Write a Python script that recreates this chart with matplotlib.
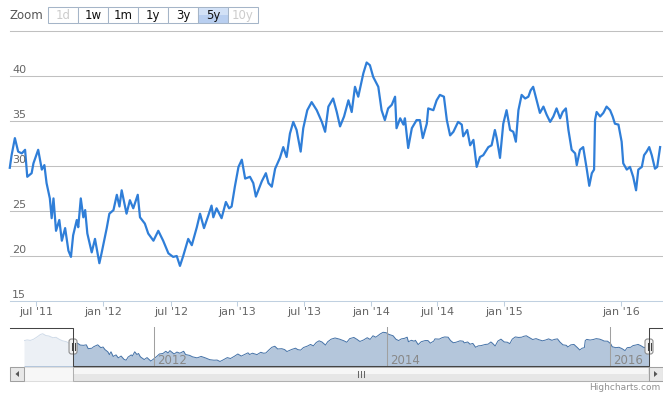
import numpy as np
import pandas as pd
import matplotlib
matplotlib.use("Agg")
import matplotlib.pyplot as plt
import matplotlib.dates as mdates
from matplotlib.patches import Rectangle, FancyBboxPatch, Polygon
from matplotlib.lines import Line2D
from matplotlib.transforms import IdentityTransform, blended_transform_factory

W, H = 663, 396

# price series in the selected 5y range
dates = [
    "2011-04-20", "2011-04-25", "2011-05-04", "2011-05-13", "2011-05-23", "2011-06-01",
    "2011-06-07", "2011-06-19", "2011-06-24", "2011-07-07", "2011-07-17", "2011-07-24",
    "2011-07-30", "2011-08-08", "2011-08-13", "2011-08-18", "2011-08-25", "2011-09-03",
    "2011-09-10", "2011-09-19", "2011-09-28", "2011-10-05", "2011-10-11", "2011-10-21",
    "2011-10-25", "2011-11-01", "2011-11-08", "2011-11-13", "2011-11-19", "2011-12-01",
    "2011-12-10", "2011-12-22", "2011-12-28", "2012-01-11", "2012-01-18", "2012-01-29",
    "2012-02-07", "2012-02-14", "2012-02-20", "2012-03-04", "2012-03-13", "2012-03-22",
    "2012-04-03", "2012-04-09", "2012-04-22", "2012-05-01", "2012-05-15", "2012-05-28",
    "2012-06-10", "2012-06-24", "2012-07-07", "2012-07-17", "2012-07-26", "2012-08-04",
    "2012-08-18", "2012-08-28", "2012-09-11", "2012-09-20", "2012-10-01", "2012-10-13",
    "2012-10-22", "2012-10-27", "2012-11-05", "2012-11-19", "2012-12-01", "2012-12-10",
    "2012-12-17", "2012-12-26", "2013-01-05", "2013-01-14", "2013-01-23", "2013-02-05",
    "2013-02-14", "2013-02-21", "2013-03-09", "2013-03-20", "2013-03-27", "2013-04-05",
    "2013-04-14", "2013-04-27", "2013-05-06", "2013-05-15", "2013-05-24", "2013-06-02",
    "2013-06-11", "2013-06-22", "2013-06-29", "2013-07-10", "2013-07-22", "2013-08-05",
    "2013-08-19", "2013-08-28", "2013-09-06", "2013-09-19", "2013-09-29", "2013-10-08",
    "2013-10-19", "2013-10-31", "2013-11-09", "2013-11-18", "2013-11-27", "2013-12-11",
    "2013-12-20", "2013-12-29", "2014-01-07", "2014-01-21", "2014-01-30", "2014-02-08",
    "2014-02-17", "2014-02-27", "2014-03-08", "2014-03-12", "2014-03-22", "2014-03-31",
    "2014-04-04", "2014-04-13", "2014-04-23", "2014-05-06", "2014-05-15", "2014-05-23",
    "2014-06-03", "2014-06-07", "2014-06-21", "2014-06-30", "2014-07-09", "2014-07-20",
    "2014-07-28", "2014-08-06", "2014-08-15", "2014-08-28", "2014-09-07", "2014-09-11",
    "2014-09-22", "2014-09-30", "2014-10-09", "2014-10-18", "2014-10-27", "2014-11-05",
    "2014-11-19", "2014-11-28", "2014-12-07", "2014-12-12", "2014-12-21", "2014-12-30",
    "2015-01-09", "2015-01-20", "2015-01-30", "2015-02-07", "2015-02-15", "2015-02-25",
    "2015-03-08", "2015-03-18", "2015-03-25", "2015-04-02", "2015-04-13", "2015-04-23",
    "2015-05-04", "2015-05-14", "2015-05-25", "2015-06-04", "2015-06-14", "2015-06-25",
    "2015-07-03", "2015-07-13", "2015-07-21", "2015-07-31", "2015-08-11", "2015-08-16",
    "2015-08-26", "2015-09-05", "2015-09-16", "2015-09-24", "2015-10-02", "2015-10-09",
    "2015-10-12", "2015-10-17", "2015-10-28", "2015-11-07", "2015-11-17", "2015-11-28",
    "2015-12-06", "2015-12-13", "2015-12-24", "2016-01-03", "2016-01-08", "2016-01-19",
    "2016-01-29", "2016-02-08", "2016-02-17", "2016-02-24", "2016-03-06", "2016-03-13",
    "2016-03-21", "2016-03-29", "2016-04-06", "2016-04-16", "2016-04-23", "2016-05-02",
]
prices = [
    29.8, 31.2, 33.1, 31.6, 31.4, 31.8,
    28.8, 29.2, 30.3, 31.8, 29.6, 30.1,
    28.1, 26.4, 24.2, 26.4, 22.8, 24.0,
    21.7, 23.1, 20.6, 19.9, 22.3, 24.0,
    23.2, 26.4, 24.3, 25.1, 22.5, 20.4,
    21.9, 19.2, 20.3, 23.1, 24.7, 25.1,
    26.8, 25.5, 27.3, 24.7, 26.2, 25.3,
    26.8, 24.3, 23.6, 22.5, 21.7, 22.8,
    21.7, 20.3, 19.9, 20.0, 18.9, 20.0,
    21.9, 21.2, 23.2, 24.7, 23.1, 24.5,
    25.6, 24.3, 25.3, 24.2, 26.0, 25.3,
    25.5, 27.7, 29.9, 30.7, 28.6, 28.8,
    28.1, 26.6, 28.3, 29.2, 28.1, 27.7,
    29.7, 30.9, 32.1, 31.0, 33.6, 34.9,
    34.0, 31.6, 34.2, 36.2, 37.1, 36.2,
    34.9, 33.8, 36.6, 37.5, 36.0, 34.4,
    35.5, 37.3, 36.0, 38.8, 37.7, 40.3,
    41.5, 41.2, 39.9, 38.8, 36.2, 35.1,
    36.4, 36.8, 37.7, 34.2, 35.3, 34.6,
    35.3, 32.0, 34.2, 35.1, 35.1, 33.1,
    34.7, 36.4, 36.2, 37.3, 37.9, 37.7,
    35.1, 33.4, 33.8, 34.9, 34.6, 33.3,
    34.0, 32.3, 32.9, 29.9, 31.0, 31.2,
    32.1, 32.3, 34.0, 33.1, 30.9, 34.7,
    36.2, 34.0, 33.8, 32.7, 36.2, 37.9,
    37.5, 37.7, 38.4, 38.8, 37.3, 35.9,
    36.6, 35.7, 34.9, 35.5, 36.4, 35.3,
    36.0, 36.4, 34.0, 31.8, 31.4, 30.1,
    31.8, 32.1, 29.7, 27.8, 29.2, 29.6,
    35.1, 36.0, 35.5, 35.9, 36.6, 36.2,
    35.5, 34.7, 34.6, 32.7, 30.3, 29.6,
    29.9, 28.8, 27.3, 29.6, 29.9, 31.2,
    31.6, 32.1, 31.2, 29.7, 29.9, 32.1,
]

# older data only visible in the navigator
early_dates = [
    "2010-11-16", "2010-11-26", "2010-12-06", "2010-12-16", "2010-12-28", "2011-01-07",
    "2011-01-14", "2011-01-24", "2011-02-03", "2011-02-15", "2011-02-25", "2011-03-08",
    "2011-03-18", "2011-03-30", "2011-04-11",
]
early_prices = [35.0, 35.6, 35.2, 36.1, 38.0, 39.8, 40.4, 39.0, 38.6, 37.3, 37.6, 36.0,
                34.9, 34.2, 32.6]

tick_dates = ["2011-07-01", "2012-01-01", "2012-07-01", "2013-01-01", "2013-07-01",
              "2014-01-01", "2014-07-01", "2015-01-01", "2016-01-01"]
tick_labels = ["jul '11", "jan '12", "jul '12", "jan '13", "jul '13",
               "jan '14", "jul '14", "jan '15", "jan '16"]
# Highcharts uses an ordinal axis, so the ticks are not evenly spaced in time
tick_px = [36, 103, 171, 237, 304, 371, 437, 504, 621]

nav_years = ["2012-01-01", "2014-01-01", "2016-01-01"]
nav_year_labels = ["2012", "2014", "2016"]
nav_anchor_dates = ["2010-11-16", "2012-01-01", "2014-01-01", "2016-01-01", "2016-05-02"]
nav_anchor_px = [24, 154, 387, 610, 649]

yticks = [15, 20, 25, 30, 35, 40, 45]
zoom_buttons = ["1d", "1w", "1m", "1y", "3y", "5y", "10y"]
zoom_selected = "5y"
zoom_disabled = ["1d", "10y"]

LINE = "#2f7ed8"
NAVC = "#4572A7"


def to_num(d):
    return mdates.date2num(pd.to_datetime(d).values)


def ordinal_scale(anchor_dates, anchor_px):
    a = to_num(anchor_dates)
    p = np.asarray(anchor_px, dtype=float)

    def lin(x, xs, ys):
        x = np.asarray(x, dtype=float)
        out = np.interp(x, xs, ys)
        lo = ys[0] + (x - xs[0]) * (ys[1] - ys[0]) / (xs[1] - xs[0])
        hi = ys[-1] + (x - xs[-1]) * (ys[-1] - ys[-2]) / (xs[-1] - xs[-2])
        return np.where(x < xs[0], lo, np.where(x > xs[-1], hi, out))

    return (lambda x: lin(x, a, p)), (lambda y: lin(y, p, a))


plt.rcParams["font.family"] = ["DejaVu Sans"]
fig = plt.figure(figsize=(W / 100, H / 100), dpi=100)
fig.patch.set_facecolor("white")
ID = IdentityTransform()


def px_axes(x0, y0, x1, y1):
    return fig.add_axes([x0 / W, 1 - y1 / H, (x1 - x0) / W, (y1 - y0) / H])


def rect(x, y, w, h, **kw):
    fig.add_artist(Rectangle((x, H - y - h), w, h, transform=ID, **kw))


def line(xs, ys, **kw):
    fig.add_artist(Line2D(xs, [H - v for v in ys], transform=ID, **kw))


x = to_num(dates)
xe = to_num(early_dates)

# ---- main chart ----
ax = px_axes(10, 31, 663, 301)
fwd, inv = ordinal_scale(tick_dates, tick_px)
ax.set_xscale("function", functions=(fwd, inv))
ax.set_xlim(float(inv(10)), float(inv(663)))
ax.set_ylim(15, 45)
for s in ax.spines.values():
    s.set_visible(False)

for v in yticks[1:]:
    ax.axhline(v, color="#C0C0C0", lw=0.75, zorder=1, clip_on=False)
ax.axhline(15, color="#C0D0E0", lw=0.75, zorder=1, clip_on=False)

ax.plot(x, prices, color=LINE, lw=1.6, solid_joinstyle="round", zorder=3, clip_on=False)

ylab_tr = blended_transform_factory(ax.transAxes, ax.transData)
for v in yticks[:-1]:
    ax.annotate(str(v), xy=(0, v), xycoords=ylab_tr, xytext=(1.5, 4.3),
                textcoords="offset points", ha="left", va="center",
                fontsize=8, color="#666666", zorder=4)

ax.set_xticks(to_num(tick_dates))
ax.set_xticklabels(tick_labels)
ax.tick_params(axis="x", length=3.6, width=0.75, color="#C0D0E0", labelsize=8,
               labelcolor="#666666", pad=1)
ax.tick_params(axis="y", left=False, labelleft=False)

# ---- navigator ----
nav = px_axes(24, 327, 649, 366)
nfwd, ninv = ordinal_scale(nav_anchor_dates, nav_anchor_px)
nav.set_xscale("function", functions=(nfwd, ninv))
nav.set_xlim(float(ninv(24)), float(ninv(649)))
nav.set_ylim(15.4, 45.6)
for s in nav.spines.values():
    s.set_visible(False)
nav.set_xticks([])
nav.set_yticks([])

nx = np.concatenate([xe, x])
ny = np.concatenate([early_prices, prices])
nav.fill_between(nx, ny, 0, color=NAVC, alpha=0.4, lw=0, zorder=2)
nav.plot(nx, ny, color=NAVC, lw=0.7, zorder=3)

for d, lab in zip(to_num(nav_years), nav_year_labels):
    nav.axvline(d, color="#A0A0A0", lw=0.75, zorder=4)
    nav.annotate(lab, xy=(d, 0), xycoords=blended_transform_factory(nav.transData, nav.transAxes),
                 xytext=(2.2, 1.5), textcoords="offset points", ha="left", va="baseline",
                 fontsize=8.5, color="#888888", zorder=5)

btr = blended_transform_factory(nav.transData, nav.transAxes)
nav.add_patch(Rectangle((nav.get_xlim()[0], 0), x[0] - nav.get_xlim()[0], 1, transform=btr,
                        facecolor="white", alpha=0.75, lw=0, zorder=6))

hx0 = float(nfwd(x[0]))
hx1 = float(nfwd(x[-1]))

# outline
line([10, hx0, hx0, hx1, hx1, 663], [327.5, 327.5, 366, 366, 327.5, 327.5],
     color="#444444", lw=0.75)

# scrollbar
rect(10, 367, 653, 14, facecolor="#f7f7f7", edgecolor="#dddddd", lw=0.75)
rect(hx0, 367, hx1 - hx0, 14, facecolor="#e6e6e6", edgecolor="#b0b0b0", lw=0.75)
rect(hx0 + 1, 368, hx1 - hx0 - 2, 6, facecolor="#f6f6f6", lw=0)
cx = (hx0 + hx1) / 2
for dx in (-3, 0, 3):
    line([cx + dx, cx + dx], [371, 377], color="#666666", lw=0.75)
for bx in (10, 649):
    rect(bx, 367, 14, 14, facecolor="#e8e8e8", edgecolor="#a0a0a0", lw=0.75)
fig.add_artist(Polygon([(19, H - 371), (19, H - 377), (15.5, H - 374)], closed=True,
                       transform=ID, facecolor="#555555", lw=0))
fig.add_artist(Polygon([(654, H - 371), (654, H - 377), (657.5, H - 374)], closed=True,
                       transform=ID, facecolor="#555555", lw=0))

# handles
for hx in (hx0, hx1):
    fig.add_artist(FancyBboxPatch((hx - 4, H - 354), 8, 15, boxstyle="round,pad=0,rounding_size=2.5",
                                  transform=ID, facecolor="#f2f2f2", edgecolor="#888888", lw=0.75))
    for dx in (-1.5, 1.5):
        line([hx + dx, hx + dx], [343, 350], color="#444444", lw=0.75)

# ---- range selector ----
fig.text(10 / W, 1 - 15.5 / H, "Zoom", ha="left", va="center", fontsize=8.5, color="#555555")
for i, lab in enumerate(zoom_buttons):
    bx = 48 + 30 * i
    if lab == zoom_selected:
        rect(bx, 7, 30, 16, facecolor="#b9cff0", edgecolor="#a5b5c8", lw=0.75)
        rect(bx + 0.5, 7.5, 29, 7, facecolor="#d2e1f6", lw=0)
    else:
        rect(bx, 7, 30, 16, facecolor="white", edgecolor="#a5b5c8", lw=0.75)
    col = "#cccccc" if lab in zoom_disabled else "#111111"
    fig.text((bx + 15) / W, 1 - 15.5 / H, lab, ha="center", va="center", fontsize=8.5, color=col)

fig.text(660 / W, 1 - 388 / H, "Highcharts.com", ha="right", va="center", fontsize=6.5,
         color="#909090")

fig.savefig("out.png", dpi=100, facecolor="white")
